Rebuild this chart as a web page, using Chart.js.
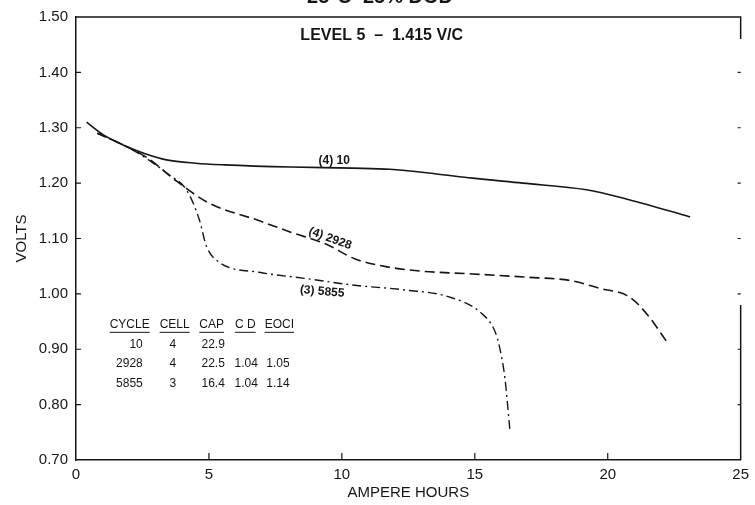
<!DOCTYPE html>
<html lang="en">
<head>
<meta charset="UTF-8">
<title>Level 5 discharge curves</title>
<script src="https://cdn.jsdelivr.net/npm/chart.js@4"></script>
<style>
  html, body { margin: 0; padding: 0; background: #fff; }
  #wrap { width: 755px; height: 505px; }
</style>
</head>
<body>
<div id="wrap"><canvas id="chart"></canvas></div>
<script>
const FONT = '"Liberation Sans", Arial, sans-serif';
const INK = '#161616';

// axis ticks
const xTicks = [0, 5, 10, 15, 20, 25];
const yTicks = [0.70, 0.80, 0.90, 1.00, 1.10, 1.20, 1.30, 1.40, 1.50];

// cycle 10, cell 4 (solid)
const cycle10Ah    = [0.4, 1.0, 1.9, 2.6, 3.4, 4.5, 5.6, 8.1, 10.4, 11.8, 13.5, 14.9, 16.8, 19.2, 20.8, 23.1];
const cycle10Volts = [1.310, 1.288, 1.266, 1.253, 1.242, 1.236, 1.233, 1.229, 1.227, 1.225, 1.217, 1.209, 1.200, 1.188, 1.170, 1.139];

// cycle 2928, cell 4 (dashed)
const cycle2928Ah    = [0.8, 1.9, 2.7, 3.8, 5.0, 6.9, 8.1, 9.4, 10.5, 11.8, 13.0, 14.9, 17.0, 18.6, 19.7, 20.8, 21.5, 22.3];
const cycle2928Volts = [1.290, 1.266, 1.245, 1.203, 1.164, 1.132, 1.111, 1.090, 1.063, 1.048, 1.041, 1.036, 1.030, 1.024, 1.010, 0.995, 0.962, 0.908];

// cycle 5855, cell 3 (dash-dot)
const cycle5855Ah    = [0.8, 1.9, 2.7, 3.5, 4.15, 4.64, 4.9, 5.39, 6.89, 8.76, 10.39, 12.38, 14.0, 15.25, 15.76, 15.94, 16.13, 16.32];
const cycle5855Volts = [1.290, 1.266, 1.243, 1.215, 1.188, 1.134, 1.087, 1.057, 1.039, 1.027, 1.016, 1.007, 0.995, 0.965, 0.932, 0.902, 0.849, 0.754];

// summary table
const tableHeader = ['CYCLE', 'CELL', 'CAP', 'C D', 'EOCI'];
const tableRows = [
  ['10',   '4', '22.9', '',     ''],
  ['2928', '4', '22.5', '1.04', '1.05'],
  ['5855', '3', '16.4', '1.04', '1.14']
];

const toPoints = (xs, ys) => xs.map((x, i) => ({ x: x, y: ys[i] }));

// text drawn inside the plot, anchored in data units
const curveLabels = [
  { text: '(4) 10',   x: 9.71, y: 1.241, rot: 0 },
  { text: '(4) 2928', x: 9.56, y: 1.100, rot: 20 },
  { text: '(3) 5855', x: 9.26, y: 1.004, rot: 5 }
];

const decorations = {
  id: 'decorations',
  afterDraw(chart) {
    const { ctx, chartArea: a, scales: { x, y } } = chart;
    ctx.save();
    ctx.strokeStyle = INK;
    ctx.fillStyle = INK;

    // top border and broken right border
    ctx.lineWidth = 1.5;
    ctx.beginPath();
    ctx.moveTo(a.left, a.top);
    ctx.lineTo(a.right, a.top);
    ctx.lineTo(a.right, a.top + 22);
    ctx.moveTo(a.right, a.top + 288);
    ctx.lineTo(a.right, a.bottom);
    ctx.stroke();

    // inward tick marks
    ctx.lineWidth = 1.2;
    ctx.beginPath();
    xTicks.slice(1, -1).forEach(v => {
      const px = x.getPixelForValue(v);
      ctx.moveTo(px, a.bottom);
      ctx.lineTo(px, a.bottom - 7);
    });
    yTicks.slice(1, -1).forEach(v => {
      const py = y.getPixelForValue(v);
      ctx.moveTo(a.left, py);
      ctx.lineTo(a.left + 5, py);
      ctx.moveTo(a.right, py);
      ctx.lineTo(a.right - 3, py);
    });
    ctx.stroke();

    // chart title, mostly cut off by the top edge
    ctx.textAlign = 'center';
    ctx.textBaseline = 'alphabetic';
    ctx.font = 'bold 20px ' + FONT;
    ctx.fillText('25°C  25% DOD', 380, 3);

    ctx.font = 'bold 16px ' + FONT;
    ctx.textBaseline = 'middle';
    ctx.fillText('LEVEL 5  \u2013  1.415 V/C', x.getPixelForValue(11.5), y.getPixelForValue(1.466));

    // curve labels
    ctx.font = 'bold 12px ' + FONT;
    curveLabels.forEach(l => {
      ctx.save();
      ctx.translate(x.getPixelForValue(l.x), y.getPixelForValue(l.y));
      ctx.rotate(l.rot * Math.PI / 180);
      ctx.fillText(l.text, 0, 0);
      ctx.restore();
    });

    // summary table
    const colCenter = [2.02, 3.71, 5.10, 6.37, 7.65];
    const colAnchor = [2.51, 3.64, 4.72, 5.96, 7.16];
    const colAlign  = ['right', 'center', 'left', 'left', 'left'];
    const headerY = y.getPixelForValue(0.945);
    ctx.font = '12px ' + FONT;
    ctx.lineWidth = 1;
    tableHeader.forEach((h, i) => {
      const cx = x.getPixelForValue(colCenter[i]);
      ctx.textAlign = 'center';
      ctx.fillText(h, cx, headerY);
      const w = ctx.measureText(h).width;
      ctx.beginPath();
      ctx.moveTo(cx - w / 2, headerY + 8);
      ctx.lineTo(cx + w / 2, headerY + 8);
      ctx.stroke();
    });
    tableRows.forEach((row, r) => {
      const ry = headerY + 20 + r * 19.5;
      row.forEach((cell, i) => {
        ctx.textAlign = colAlign[i];
        ctx.fillText(cell, x.getPixelForValue(colAnchor[i]), ry);
      });
    });
    ctx.restore();
  }
};

const ctx = document.getElementById('chart').getContext('2d');

const chart = new Chart(ctx, {
  type: 'scatter',
  data: {
    datasets: [
      {
        label: 'Cycle 10',
        data: toPoints(cycle10Ah, cycle10Volts),
        borderColor: INK,
        borderWidth: 1.6,
      },
      {
        label: 'Cycle 2928',
        data: toPoints(cycle2928Ah, cycle2928Volts),
        borderColor: INK,
        borderWidth: 1.6,
        borderDash: [10, 5],
      },
      {
        label: 'Cycle 5855',
        data: toPoints(cycle5855Ah, cycle5855Volts),
        borderColor: INK,
        borderWidth: 1.4,
        borderDash: [9, 4, 2, 4],
      },
    ],
  },
  options: {
    responsive: true,
    maintainAspectRatio: false,
    animation: false,
    showLine: true,
    elements: {
      point: { radius: 0 },
      line: { cubicInterpolationMode: 'monotone', fill: false },
    },
    layout: { padding: { top: 12, right: 12, left: 0, bottom: 0 } },
    plugins: {
      legend: { display: false },
      tooltip: { enabled: false },
    },
    scales: {
      x: {
        type: 'linear',
        min: 0,
        max: 25,
        afterBuildTicks: s => { s.ticks = xTicks.map(v => ({ value: v })); },
        afterFit: s => { s.height = 45; },
        ticks: { color: INK, padding: 6, maxRotation: 0, font: { family: FONT, size: 15 } },
        grid: { display: false, drawTicks: false },
        border: { display: true, color: INK, width: 1.5 },
        title: {
          display: true,
          text: 'AMPERE HOURS',
          color: INK,
          font: { family: FONT, size: 15 },
          padding: { top: 2, bottom: 3 },
        },
      },
      y: {
        type: 'linear',
        min: 0.70,
        max: 1.50,
        afterBuildTicks: s => { s.ticks = yTicks.map(v => ({ value: v })); },
        afterFit: s => { s.width = 76; },
        ticks: {
          color: INK,
          padding: 8,
          font: { family: FONT, size: 15 },
          callback: v => v.toFixed(2),
        },
        grid: { display: false, drawTicks: false },
        border: { display: true, color: INK, width: 1.5 },
        title: {
          display: true,
          text: 'VOLTS',
          color: INK,
          font: { family: FONT, size: 15 },
          padding: { top: 13, bottom: 2 },
        },
      },
    },
  },
  plugins: [decorations],
});
</script>
</body>
</html>
